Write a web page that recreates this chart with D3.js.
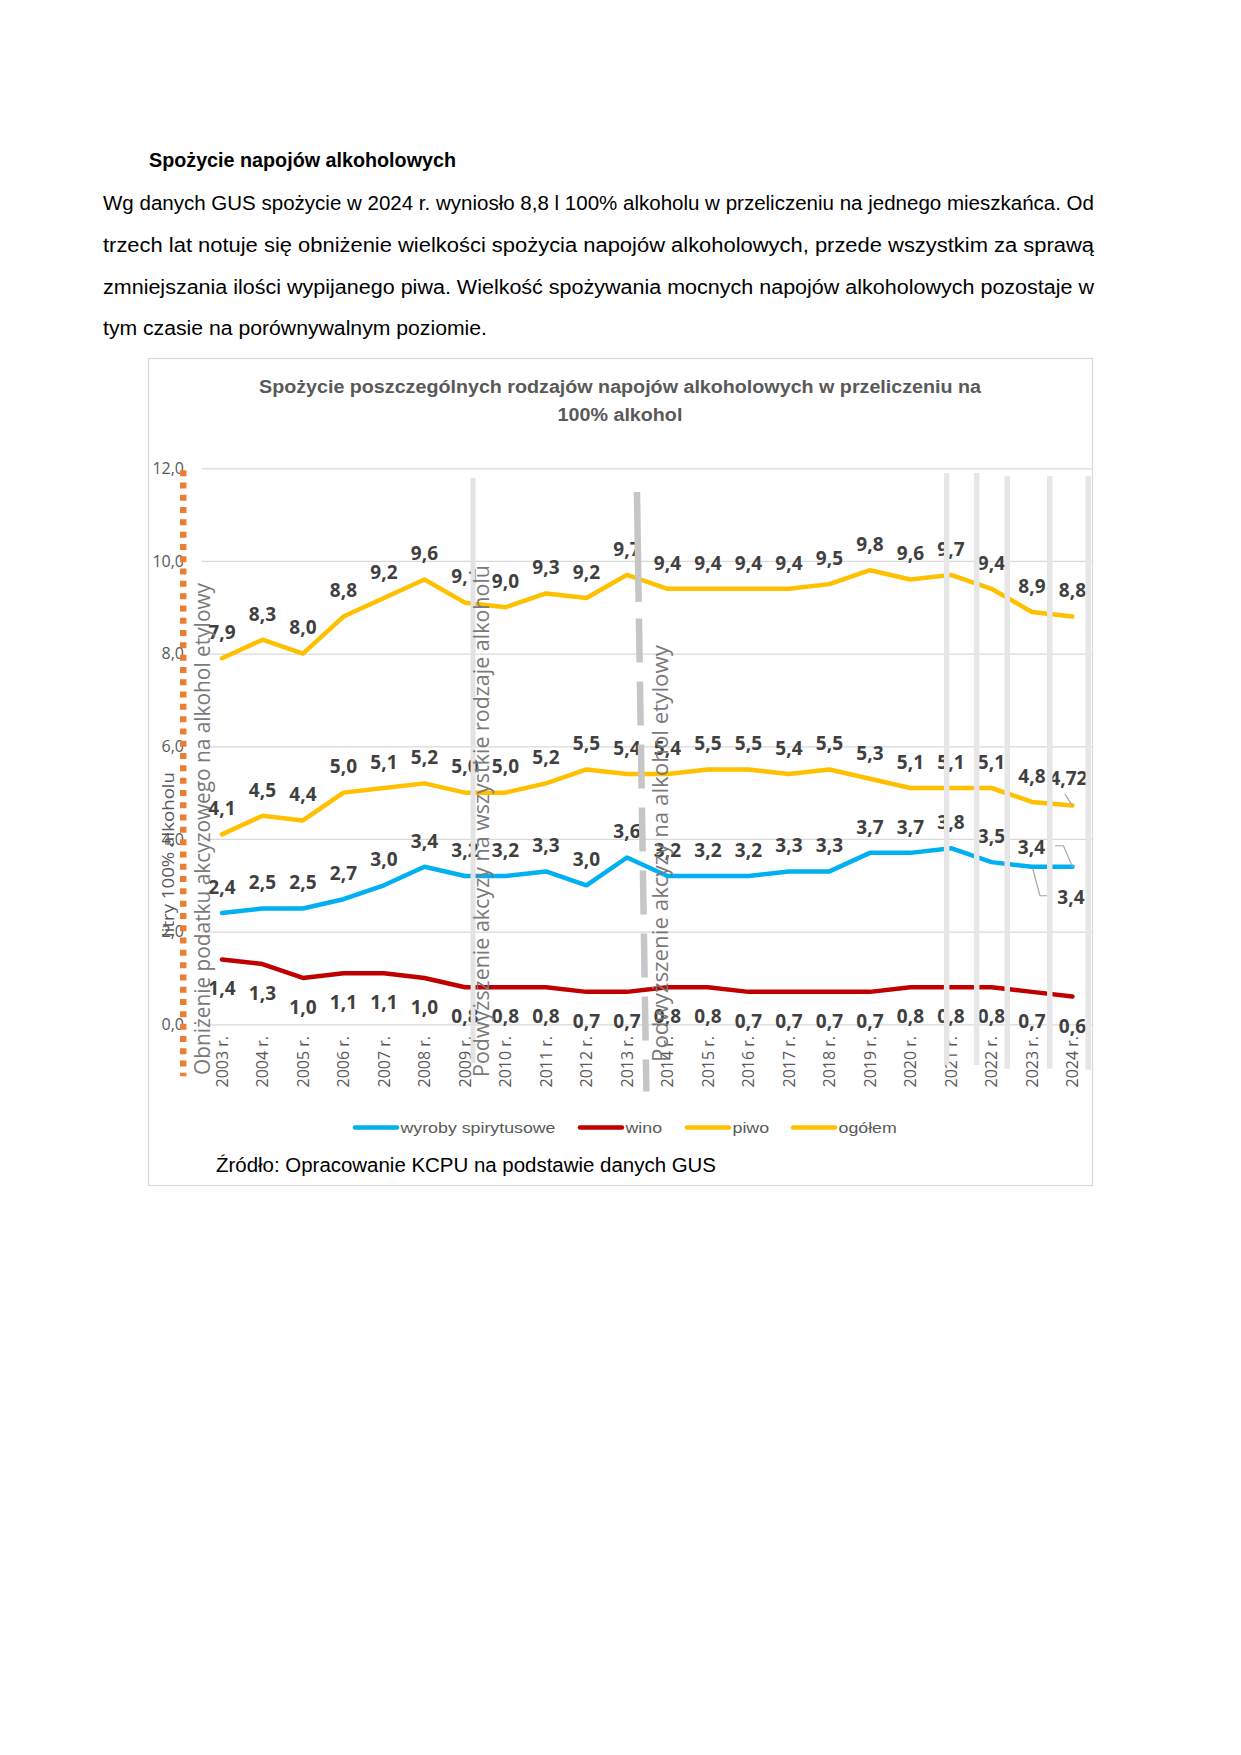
<!DOCTYPE html>
<html><head><meta charset="utf-8">
<script src="https://cdn.jsdelivr.net/npm/d3@7"></script>
<style>body{margin:0;background:#fff}</style>
</head><body>
<script>
// ---------- DATA ----------
const years = ["2003 r.","2004 r.","2005 r.","2006 r.","2007 r.","2008 r.","2009 r.","2010 r.","2011 r.","2012 r.","2013 r.","2014 r.","2015 r.","2016 r.","2017 r.","2018 r.","2019 r.","2020 r.","2021 r.","2022 r.","2023 r.","2024 r."];
const spirits = [2.4,2.5,2.5,2.7,3.0,3.4,3.2,3.2,3.3,3.0,3.6,3.2,3.2,3.2,3.3,3.3,3.7,3.7,3.8,3.5,3.4,3.4];
const wine    = [1.4,1.3,1.0,1.1,1.1,1.0,0.8,0.8,0.8,0.7,0.7,0.8,0.8,0.7,0.7,0.7,0.7,0.8,0.8,0.8,0.7,0.6];
const beer    = [4.1,4.5,4.4,5.0,5.1,5.2,5.0,5.0,5.2,5.5,5.4,5.4,5.5,5.5,5.4,5.5,5.3,5.1,5.1,5.1,4.8,4.72];
const total   = [7.9,8.3,8.0,8.8,9.2,9.6,9.1,9.0,9.3,9.2,9.7,9.4,9.4,9.4,9.4,9.5,9.8,9.6,9.7,9.4,8.9,8.8];
const yTicks = [0,2,4,6,8,10,12];
const seriesNames = ["wyroby spirytusowe","wino","piwo","ogółem"];
const seriesColors = ["#00B0F0","#C00000","#FFC000","#FFC000"];

const heading = "Spożycie napojów alkoholowych";
const paragraph = [
  "Wg danych GUS spożycie w 2024 r. wyniosło 8,8 l 100% alkoholu w przeliczeniu na jednego mieszkańca. Od",
  "trzech lat notuje się obniżenie wielkości spożycia napojów alkoholowych, przede wszystkim za sprawą",
  "zmniejszania ilości wypijanego piwa. Wielkość spożywania mocnych napojów alkoholowych pozostaje w",
  "tym czasie na porównywalnym poziomie."
];
const chartTitle = ["Spożycie poszczególnych rodzajów napojów alkoholowych w przeliczeniu na","100% alkohol"];
const yTitle = "litry 100% alkoholu";
const sourceText = "Źródło: Opracowanie KCPU na podstawie danych GUS";
const notes = ["Obniżenie podatku akcyzowego na alkohol etylowy","Podwyższenie akcyzy na wszystkie rodzaje alkoholu","Podwyższenie akcyzy na alkohol etylowy"];

// ---------- SETUP ----------
const W = 1241, H = 1755;
const svg = d3.select("body").append("svg").attr("width", W).attr("height", H).style("display","block");
svg.append("rect").attr("width", W).attr("height", H).attr("fill", "#fff");

const docFont = "'Liberation Sans', Arial, sans-serif";
const chFont = "'Open Sans', 'Noto Sans', sans-serif";

function fit(sel, target){ sel.attr("textLength", target).attr("lengthAdjust","spacingAndGlyphs"); return sel; }

// ---------- DOCUMENT TEXT ----------
fit(svg.append("text").attr("x",149).attr("y",167).attr("font-family",docFont).attr("font-weight","bold")
  .attr("font-size",19.5).attr("fill","#000").text(heading), 307);
const pWidths = [991, 991, 991, 384];
paragraph.forEach((t,i)=>{
  fit(svg.append("text").attr("x",103).attr("y",210 + i*41.8).attr("font-family",docFont)
    .attr("font-size",19.5).attr("fill","#000").text(t), pWidths[i]);
});

// ---------- CHART FRAME ----------
svg.append("rect").attr("x",148.5).attr("y",358.5).attr("width",944).attr("height",827)
  .attr("fill","none").attr("stroke","#d9d9d9").attr("stroke-width",1.2);

// title
const t1 = svg.append("text").attr("x",620).attr("y",393).attr("text-anchor","middle")
  .attr("font-family",docFont).attr("font-weight","bold").attr("font-size",18).attr("fill","#595959").text(chartTitle[0]);
const n1 = t1.node().getComputedTextLength(); const ratioT = 722/n1; fit(t1, 722);
const t2 = svg.append("text").attr("x",620).attr("y",421).attr("text-anchor","middle")
  .attr("font-family",docFont).attr("font-weight","bold").attr("font-size",18).attr("fill","#595959").text(chartTitle[1]);
fit(t2, t2.node().getComputedTextLength()*ratioT);

// ---------- SCALES ----------
const plot = {left:201.7, right:1092.7, top:468.3, bottom:1024.3};
const x = d3.scaleBand().domain(years).range([plot.left, plot.right]);
const cx = i => x(years[i]) + x.bandwidth()/2;
const y = d3.scaleLinear().domain([0,12]).range([plot.bottom, plot.top]);
const pos = d3.scaleLinear().domain([0, years.length-1]).range([cx(0), cx(years.length-1)]);
const fmt = v => (Math.round(v*100)%10 !== 0 ? v.toFixed(2) : v.toFixed(1)).replace(".",",");

// gridlines
svg.append("g").attr("transform",`translate(${plot.left},0)`)
  .call(d3.axisLeft(y).tickValues(yTicks).tickSize(-(plot.right-plot.left)).tickFormat(""))
  .call(g=>g.select(".domain").remove())
  .selectAll("line").attr("stroke","#d9d9d9").attr("stroke-width",1.3);

// y tick labels
svg.append("g").attr("transform","translate(184,0)")
  .call(d3.axisLeft(y).tickValues(yTicks).tickSize(0).tickPadding(0).tickFormat(d=>d.toFixed(1).replace(".",",")))
  .call(g=>g.select(".domain").remove())
  .selectAll("text").attr("font-family",chFont).attr("font-size",16).attr("fill","#595959");

// x labels
svg.append("g").attr("transform","translate(0,1036)")
  .call(d3.axisBottom(x).tickSize(0).tickPadding(0))
  .call(g=>g.select(".domain").remove())
  .selectAll("text").attr("transform","rotate(-90)").attr("text-anchor","end")
  .attr("x",0).attr("y",0).attr("dy","0.36em")
  .attr("font-family",chFont).attr("font-size",16).attr("fill","#595959");

// ---------- LINES ----------
const allSeries = [spirits, wine, beer, total];
const line = d3.line().x((d,i)=>cx(i)).y(d=>y(d));
allSeries.forEach((s,k)=>{
  svg.append("path").datum(s).attr("d",line).attr("fill","none").attr("stroke",seriesColors[k])
    .attr("stroke-width",4.5).attr("stroke-linejoin","round").attr("stroke-linecap","round");
});

// ---------- DATA LABELS ----------
const labelG = svg.append("g").attr("font-family",chFont).attr("font-weight","bold").attr("font-size",19)
  .attr("fill","#404040").attr("text-anchor","middle");
function labelPos(k,i,v){
  let dx = 0, dy = (k===1) ? 36 : -19.2;
  if (k===0 && i===20){ dy = -13.2; dx = -0.5; }
  if (k===0 && i===21){ dy = 37; dx = -1.5; }
  if (k===2 && i===21){ dx = -4; dy = -20.5; }
  return [cx(i)+dx, y(v)+dy];
}
allSeries.forEach((s,k)=>{
  labelG.selectAll(null).data(s).enter().append("text")
    .attr("x",(d,i)=>labelPos(k,i,d)[0]).attr("y",(d,i)=>labelPos(k,i,d)[1]).text(d=>fmt(d));
});
// leader lines
const lead = svg.append("g").attr("fill","none").attr("stroke","#a6a6a6").attr("stroke-width",1.2);
{
  const Pb = [cx(21), y(beer[21])];
  lead.append("path").attr("d", d3.line()([[Pb[0]-7.5,Pb[1]-11.5],[Pb[0],Pb[1]]]));
  const P21 = [cx(21), y(spirits[21])], P20 = [cx(20), y(spirits[20])];
  lead.append("path").attr("d", d3.line()([[P21[0]-17.5,P21[1]-21],[P21[0]-9,P21[1]-21],[P21[0],P21[1]]]));
  lead.append("path").attr("d", d3.line()([[P20[0]+16,P20[1]+29],[P20[0]+8,P20[1]+29],[P20[0]+0.7,P20[1]+1.5]]));
}

// ---------- ANNOTATIONS ----------
const barIdx = [17.894, 18.635, 19.39, 20.44, 21.39];
const barTop = [11.9, 11.9, 11.83, 11.83, 11.83];
const barBot = [-0.88, -0.88, -0.96, -0.96, -0.98];
barIdx.forEach((b,i)=>{
  svg.append("line").attr("x1",pos(b)).attr("x2",pos(b)).attr("y1",y(barTop[i])).attr("y2",y(barBot[i]))
    .attr("stroke","#e6e6e6").attr("stroke-width",5.5);
});
svg.append("line").attr("x1",pos(6.2)).attr("x2",pos(6.2)).attr("y1",y(11.79)).attr("y2",y(-0.84))
  .attr("stroke","#e3e3e3").attr("stroke-width",5);
{
  const pat = [110,16.6]; for(let i=0;i<10;i++){ pat.push(44,19); }
  svg.append("line").attr("x1",pos(10.247)).attr("x2",pos(10.48)).attr("y1",y(11.49)).attr("y2",y(-1.45))
    .attr("stroke","#c6c6c6").attr("stroke-width",6.5).attr("stroke-dasharray",pat.join(","));
}
svg.append("line").attr("x1",pos(-0.956)).attr("x2",pos(-0.956)).attr("y1",y(11.96)).attr("y2",y(-1.12))
  .attr("stroke","#ED7D31").attr("stroke-width",6.5).attr("stroke-dasharray","6,6.3");

const noteSpec = [[210,1075,492],[489,1077,512],[668,1062,417]];
notes.forEach((t,i)=>{
  const [nx,ny,len] = noteSpec[i];
  fit(svg.append("text").attr("transform",`translate(${nx},${ny}) rotate(-90)`)
    .attr("font-family",chFont).attr("font-size",22).attr("font-weight",500).attr("fill","#7a7a7a").text(t), len);
});

fit(svg.append("text").attr("transform","translate(173.5,854.5) rotate(-90)").attr("text-anchor","middle")
  .attr("font-family",chFont).attr("font-size",17).attr("fill","#595959").text(yTitle), 165);

// ---------- LEGEND ----------
const legStarts = [355, 580, 687, 793];
const legY = 1127.5;
const lg = svg.append("g");
let ratioL = 1;
seriesNames.forEach((nm,k)=>{
  lg.append("line").attr("x1",legStarts[k]).attr("x2",legStarts[k]+42).attr("y1",legY).attr("y2",legY)
    .attr("stroke",seriesColors[k]).attr("stroke-width",4.5).attr("stroke-linecap","round");
  const tx = lg.append("text").attr("x",legStarts[k]+45.5).attr("y",legY+5.3)
    .attr("font-family",docFont).attr("font-size",15).attr("fill","#595959").text(nm);
  const n = tx.node().getComputedTextLength();
  if (k===0) ratioL = 155/n;
  fit(tx, n*ratioL);
});

fit(svg.append("text").attr("x",216).attr("y",1172).attr("font-family",docFont).attr("font-size",19.5)
  .attr("fill","#000").text(sourceText), 500);
</script>
</body></html>
